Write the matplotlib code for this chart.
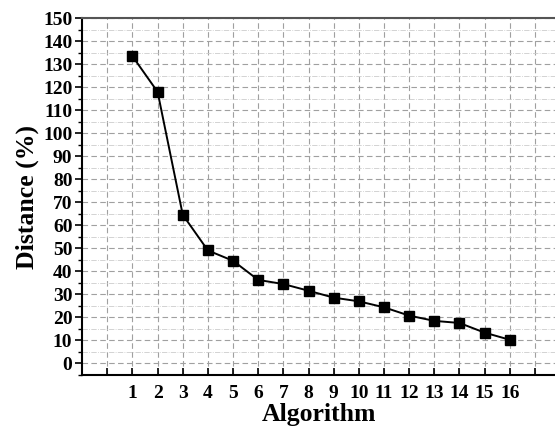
import numpy as np
import matplotlib.pyplot as plt
from matplotlib.ticker import MultipleLocator

plt.rcParams['font.family'] = ['Liberation Serif', 'DejaVu Serif']
plt.rcParams['font.weight'] = 'bold'

algorithms = list(range(1, 17))
distance = [133.5, 118.0, 64.6, 49.1, 44.6, 36.3, 34.5, 31.6,
            28.6, 27.0, 24.4, 20.8, 18.5, 17.6, 13.4, 10.3]

fig = plt.figure(figsize=(5.55, 4.33), dpi=100)
ax = fig.add_axes([0.148, 0.134, 0.852, 0.824])

ax.plot(algorithms, distance, color='black', lw=1.4, marker='s', ms=7)

ax.set_xlim(-1, 17.8)
ax.set_ylim(-5, 150)
ax.set_xticks(range(0, 18))
ax.set_xticklabels([''] + [str(a) for a in algorithms] + [''])
ax.yaxis.set_major_locator(MultipleLocator(10))
ax.yaxis.set_minor_locator(MultipleLocator(5))

ax.grid(True, which='major', axis='both', color='#a0a0a0', ls=(0, (5, 3)), lw=0.8)
ax.grid(True, which='minor', axis='y', color='#cccccc', ls='-.', lw=0.6)

ax.tick_params(axis='x', direction='in', length=5, width=1.2, labelsize=14, pad=7)
ax.tick_params(axis='y', which='major', direction='out', length=5, width=1.2, labelsize=14, pad=2)
ax.tick_params(axis='y', which='minor', direction='out', length=3, width=1.0)
for lab in ax.get_xticklabels() + ax.get_yticklabels():
    lab.set_fontweight('bold')

for side in ['left', 'bottom', 'top']:
    ax.spines[side].set_linewidth(1.5)
ax.spines['top'].set_color('#555555')
ax.spines['right'].set_visible(False)

ax.set_xlabel('Algorithm', fontsize=18.5, fontweight='bold', labelpad=1)
ax.set_ylabel('Distance (%)', fontsize=18.5, fontweight='bold', labelpad=3)

fig.savefig('out.png', dpi=100)
plt.close()
